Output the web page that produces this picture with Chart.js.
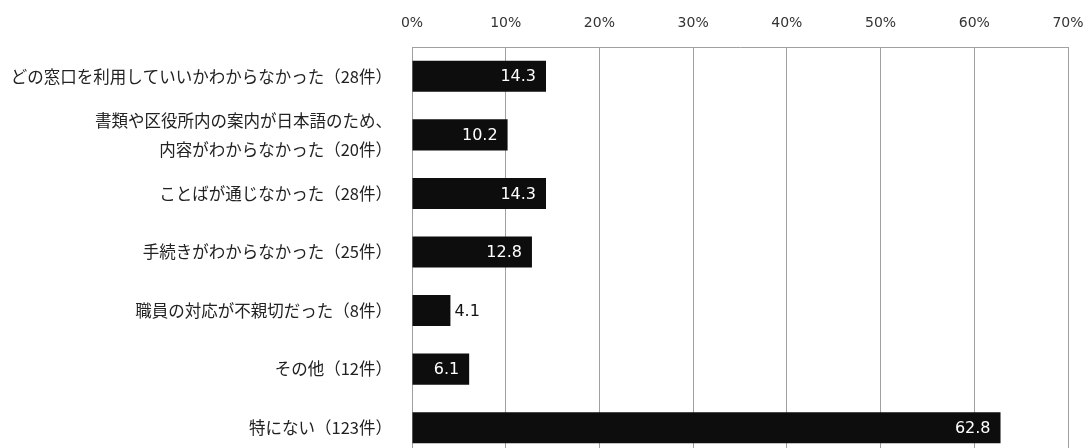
<!DOCTYPE html>
<html lang="ja">
<head>
<meta charset="utf-8">
<script src="https://cdn.jsdelivr.net/npm/chart.js@4"></script>
<style>
  html, body { margin: 0; padding: 0; background: #fff; overflow: hidden; }
</style>
</head>
<body>
<canvas id="chart" width="1090" height="470"></canvas>
<script>
// 区役所での困りごと（%）
const categories = [
    'どの窓口を利用していいかわからなかった（28件）',
    ['書類や区役所内の案内が日本語のため、', '内容がわからなかった（20件）'],
    'ことばが通じなかった（28件）',
    '手続きがわからなかった（25件）',
    '職員の対応が不親切だった（8件）',
    'その他（12件）',
    '特にない（123件）'
];
const values = [14.3, 10.2, 14.3, 12.8, 4.1, 6.1, 62.8];
const tickMax = 70;
const tickStep = 10;

// 数値ラベル（棒の中は白、短い棒は外側に黒）
const valueLabels = {
    id: 'valueLabels',
    afterDatasetsDraw(chart) {
        const ctx = chart.ctx;
        const meta = chart.getDatasetMeta(0);
        ctx.save();
        ctx.font = '16px "DejaVu Sans", Verdana, sans-serif';
        ctx.textBaseline = 'middle';
        meta.data.forEach((bar, i) => {
            const v = values[i];
            const txt = v.toFixed(1);
            if (v > 5) {
                ctx.fillStyle = '#ffffff';
                ctx.textAlign = 'right';
                ctx.fillText(txt, bar.x - 10, bar.y + 1);
            } else {
                ctx.fillStyle = '#111111';
                ctx.textAlign = 'left';
                ctx.fillText(txt, bar.x + 4, bar.y + 1);
            }
        });
        ctx.restore();
    }
};

new Chart(document.getElementById('chart'), {
    type: 'bar',
    data: {
        labels: categories,
        datasets: [{
            data: values,
            backgroundColor: '#0d0d0d',
            borderWidth: 0,
            categoryPercentage: 1,
            barPercentage: 0.53
        }]
    },
    options: {
        indexAxis: 'y',
        responsive: false,
        animation: false,
        layout: { padding: { top: 0, right: 22, bottom: 13, left: 0 } },
        plugins: { legend: { display: false }, tooltip: { enabled: false } },
        scales: {
            x: {
                position: 'top',
                min: 0,
                max: tickMax,
                ticks: {
                    stepSize: tickStep,
                    padding: 15,
                    color: '#333',
                    font: { family: '"DejaVu Sans", Verdana, sans-serif', size: 14 },
                    callback: v => v + '%'
                },
                grid: { color: '#a0a0a0', drawTicks: false, lineWidth: 1 },
                border: { color: '#a0a0a0' },
                afterFit(scale) {
                    scale.height = 47;
                    scale.paddingLeft = 0;
                    scale.paddingRight = 0;
                }
            },
            y: {
                ticks: {
                    autoSkip: false,
                    padding: 12,
                    color: '#222',
                    font: { family: '"Noto Sans CJK JP", sans-serif', size: 16.5, lineHeight: 1.76 }
                },
                grid: { display: false },
                border: { display: false },
                afterFit(scale) {
                    scale.width = 412;
                    scale.paddingTop = 0;
                    scale.paddingBottom = 0;
                }
            }
        }
    },
    plugins: [valueLabels]
});
</script>
</body>
</html>
